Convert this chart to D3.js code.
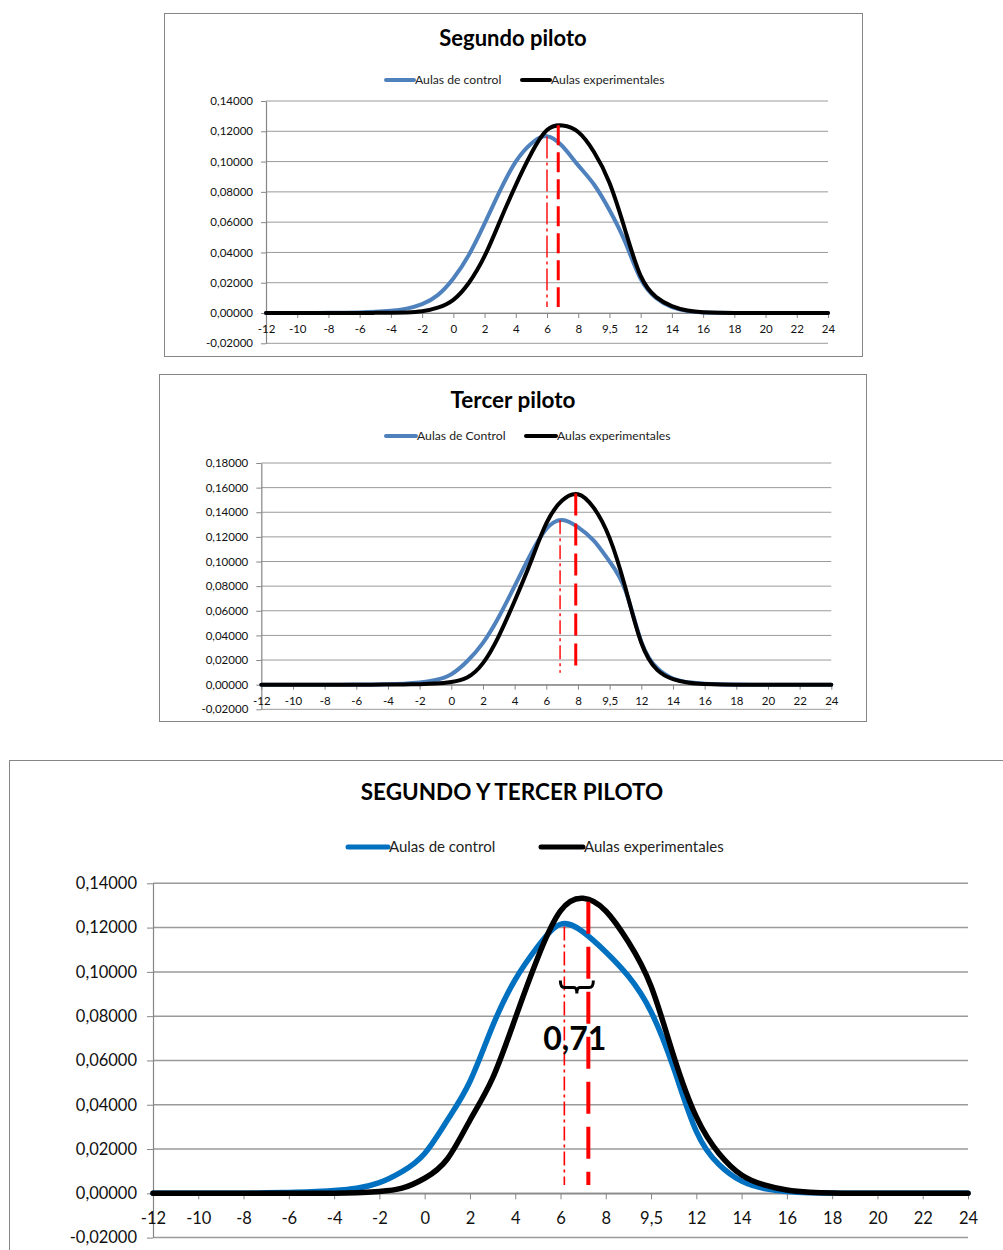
<!DOCTYPE html>
<html>
<head>
<meta charset="utf-8">
<script src="https://cdn.jsdelivr.net/npm/d3@7"></script>
<style>
  body { margin: 0; background: #fff; }
  svg { display: block; }
  text { font-family: Lato, "Open Sans", "Liberation Sans", sans-serif; }
</style>
</head>
<body>
<svg id="chart" width="1003" height="1250"></svg>
<script>
// Score positions on the horizontal axis (one density value per score)
const scores = [-12,-11,-10,-9,-8,-7,-6,-5,-4,-3,-2,-1,0,1,2,3,4,5,6,7,8,9,10,11,12,13,14,15,16,17,18,19,20,21,22,23,24];

// Category ticks and their printed labels
const tickValues = [-12,-10,-8,-6,-4,-2,0,2,4,6,8,10,12,14,16,18,20,22,24];
const tickLabels = ["-12","-10","-8","-6","-4","-2","0","2","4","6","8","9,5","12","14","16","18","20","22","24"];

// Second pilot: density of marks
const segundoControl = [0,0,0,0,0.0001,0.0002,0.0004,0.0008,0.0015,0.0029,0.0058,0.0118,0.0228,0.0385,0.059,0.081,0.100,0.112,0.1168,0.110,0.0975,0.085,0.068,0.047,0.0225,0.0098,0.0038,0.0013,0.0004,0.0001,0,0,0,0,0,0,0];
const segundoExperimental = [0,0,0,0,0,0,0,0.0001,0.0002,0.0004,0.0011,0.0035,0.0087,0.020,0.0375,0.061,0.0845,0.1055,0.1208,0.1238,0.1195,0.1065,0.086,0.055,0.0245,0.0105,0.0045,0.0016,0.0005,0.0001,0,0,0,0,0,0,0];

// Third pilot
const terceroControl = [0,0,0,0,0,0,0.0001,0.0002,0.0004,0.0008,0.0017,0.0038,0.0085,0.019,0.034,0.055,0.080,0.1055,0.1265,0.1338,0.128,0.117,0.100,0.0765,0.035,0.0135,0.005,0.002,0.0008,0.0003,0.0001,0,0,0,0,0,0];
const terceroExperimental = [0,0,0,0,0,0,0,0,0.0001,0.0002,0.0004,0.0009,0.0022,0.0058,0.0175,0.0395,0.068,0.099,0.131,0.1495,0.1546,0.1435,0.119,0.0785,0.034,0.012,0.0045,0.0015,0.0005,0.0001,0,0,0,0,0,0,0];

// Second and third pilots together
const conjuntoControl = [0,0,0,0,0,0.0002,0.0004,0.0007,0.0013,0.0023,0.0048,0.0098,0.018,0.033,0.0505,0.0755,0.0965,0.1115,0.1215,0.118,0.109,0.098,0.082,0.0565,0.028,0.013,0.0055,0.0022,0.0008,0.0003,0.0001,0,0,0,0,0,0];
const conjuntoExperimental = [0,0,0,0,0,0,0,0,0,0.0002,0.0008,0.0023,0.0068,0.0155,0.033,0.052,0.079,0.1065,0.1275,0.1332,0.1275,0.1135,0.0935,0.062,0.0345,0.018,0.0083,0.0038,0.0015,0.0005,0.0001,0,0,0,0,0,0];

// Mean markers: [control, experimental] position, top value, bottom value
const segundoMeans = [6.0, 6.72];
const segundoMeanTops = [0.1165, 0.1240];
const terceroMeans = [6.87, 7.86];
const terceroMeanTops = [0.1335, 0.1552];
const conjuntoMeans = [6.17, 7.23];
const conjuntoMeanTops = [0.1205, 0.1317];
const meanBottoms = [0.004, 0.0097, 0.0037];

// Titles, legend entries and the annotated gap
const titles = ["Segundo piloto", "Tercer piloto", "SEGUNDO Y TERCER PILOTO"];
const legendSegundo = ["Aulas de control", "Aulas experimentales"];
const legendTercero = ["Aulas de Control", "Aulas experimentales"];
const legendConjunto = ["Aulas de control", "Aulas experimentales"];
const gapLabel = "0,71";

const esLocale = d3.formatLocale({ decimal: ",", thousands: ".", grouping: [3], currency: ["", "€"], minus: "-" });
const fmtY = esLocale.format(".5f");

const svg = d3.select("#chart");

const panels = [
  {
    frame: { x: 164, y: 13, w: 698, h: 343 },
    plot: { left: 266, right: 828, top: 101, bottom: 343.3 },
    yMax: 0.14, title: titles[0], titleX: 513, titleY: 46, titleSize: 22,
    legendY: 80, legendFont: 12.2, legendSwatches: [[386, 414], [522, 550]], legendText: legendSegundo, swatchW: 4,
    tickFont: 11.5, yPad: 8, xPad: 7, tickSize: 5, gridW: 1,
    lineW: 4, blue: "#4f81bd",
    control: segundoControl, experimental: segundoExperimental,
    means: segundoMeans, meanTops: segundoMeanTops, meanBottom: meanBottoms[0],
    thinW: 1.4, thickW: 3, thinDash: "22,4,3,4", thickDash: "20,7"
  },
  {
    frame: { x: 159, y: 374, w: 707, h: 347 },
    plot: { left: 261.3, right: 831.3, top: 463, bottom: 709.3 },
    yMax: 0.18, title: titles[1], titleX: 513, titleY: 408, titleSize: 22.5,
    legendY: 436, legendFont: 12.2, legendSwatches: [[386, 416], [526, 556]], legendText: legendTercero, swatchW: 4,
    tickFont: 11.5, yPad: 8, xPad: 7, tickSize: 5, gridW: 1,
    lineW: 4, blue: "#4f81bd",
    control: terceroControl, experimental: terceroExperimental,
    means: terceroMeans, meanTops: terceroMeanTops, meanBottom: meanBottoms[1],
    thinW: 1.4, thickW: 3, thinDash: "14,4,3,4", thickDash: "22,8"
  },
  {
    frame: { x: 9, y: 760, w: 1010, h: 520 },
    plot: { left: 153, right: 968, top: 883.3, bottom: 1237.6 },
    yMax: 0.14, title: titles[2], titleX: 512, titleY: 800, titleSize: 22.5,
    legendY: 847, legendFont: 15, legendSwatches: [[348, 388], [541, 583]], legendText: legendConjunto, swatchW: 5,
    tickFont: 16.5, yPad: 10, xPad: 13, tickSize: 6, gridW: 1.5,
    lineW: 5.5, blue: "#0070c0",
    control: conjuntoControl, experimental: conjuntoExperimental,
    means: conjuntoMeans, meanTops: conjuntoMeanTops, meanBottom: meanBottoms[2],
    thinW: 1.6, thickW: 4, thinDash: "14,4,3,4", thickDash: "32,13",
    gap: true
  }
];

panels.forEach(drawPanel);

function drawPanel(p) {
  const g = svg.append("g");

  // chart frame
  g.append("rect")
    .attr("x", p.frame.x + 0.5).attr("y", p.frame.y + 0.5)
    .attr("width", p.frame.w).attr("height", p.frame.h)
    .attr("fill", "#fff").attr("stroke", "#868686").attr("stroke-width", 1);

  const x = d3.scaleLinear().domain([-12, 24]).range([p.plot.left, p.plot.right]);
  const y = d3.scaleLinear().domain([-0.02, p.yMax]).range([p.plot.bottom, p.plot.top]);
  const yTicks = d3.range(-0.02, p.yMax + 0.0001, 0.02);

  // horizontal gridlines
  g.append("g").selectAll("line").data(yTicks).join("line")
    .attr("x1", p.plot.left).attr("x2", p.plot.right)
    .attr("y1", d => y(d)).attr("y2", d => y(d))
    .attr("stroke", "#9a9a9a").attr("stroke-width", p.gridW);

  // vertical axis
  const yAxis = g.append("g")
    .attr("transform", `translate(${p.plot.left},0)`)
    .call(d3.axisLeft(y).tickValues(yTicks).tickFormat(fmtY)
      .tickSize(p.tickSize).tickSizeOuter(0).tickPadding(p.yPad));
  yAxis.select(".domain").attr("stroke", "#868686").attr("stroke-width", 1.2);
  yAxis.selectAll(".tick line").attr("stroke", "#868686");
  yAxis.selectAll("text").attr("font-size", p.tickFont).attr("fill", "#111")
    .attr("font-family", "Lato, sans-serif");

  // category axis at zero
  const xAxis = g.append("g")
    .attr("transform", `translate(0,${y(0)})`)
    .call(d3.axisBottom(x).tickValues(tickValues)
      .tickFormat((d, i) => tickLabels[i])
      .tickSize(p.tickSize).tickSizeOuter(0).tickPadding(p.xPad));
  xAxis.select(".domain").attr("stroke", "#868686").attr("stroke-width", 1.2);
  xAxis.selectAll(".tick line").attr("stroke", "#868686");
  xAxis.selectAll("text").attr("font-size", p.tickFont).attr("fill", "#111")
    .attr("font-family", "Lato, sans-serif");

  // density curves (smooth spline through the values)
  const line = d3.line()
    .x((d, i) => x(scores[i]))
    .y(d => y(d))
    .curve(d3.curveNatural);

  g.append("path").datum(p.control)
    .attr("d", line).attr("fill", "none")
    .attr("stroke", p.blue).attr("stroke-width", p.lineW)
    .attr("stroke-linejoin", "round").attr("stroke-linecap", "round");
  g.append("path").datum(p.experimental)
    .attr("d", line).attr("fill", "none")
    .attr("stroke", "#000").attr("stroke-width", p.lineW)
    .attr("stroke-linejoin", "round").attr("stroke-linecap", "round");

  // mean markers
  const meanStyle = [
    { w: p.thinW, dash: p.thinDash },
    { w: p.thickW, dash: p.thickDash }
  ];
  g.append("g").selectAll("line").data(p.means).join("line")
    .attr("x1", d => x(d)).attr("x2", d => x(d))
    .attr("y1", (d, i) => y(p.meanTops[i])).attr("y2", y(p.meanBottom))
    .attr("stroke", "#ff0000")
    .attr("stroke-width", (d, i) => meanStyle[i].w)
    .attr("stroke-dasharray", (d, i) => meanStyle[i].dash);

  // title
  g.append("text")
    .attr("x", p.titleX).attr("y", p.titleY)
    .attr("text-anchor", "middle")
    .attr("font-size", p.titleSize).attr("font-weight", 700).attr("fill", "#000")
    .text(p.title);

  // legend
  const colors = [p.blue, "#000"];
  p.legendSwatches.forEach((s, i) => {
    g.append("line")
      .attr("x1", s[0]).attr("x2", s[1])
      .attr("y1", p.legendY).attr("y2", p.legendY)
      .attr("stroke", colors[i]).attr("stroke-width", p.swatchW)
      .attr("stroke-linecap", "round");
    g.append("text")
      .attr("x", s[1] + 1).attr("y", p.legendY)
      .attr("dy", "0.35em")
      .attr("font-size", p.legendFont).attr("fill", "#222")
      .text(p.legendText[i]);
  });

  // brace and label for the gap between means
  if (p.gap) {
    const xa = x(p.means[0]) - 4, xb = x(p.means[1]) + 5;
    const xm = (xa + xb) / 2;
    const yb = y(0.093), yTop = yb - 7, yNub = yb + 6;
    const brace = d3.path();
    brace.moveTo(xa, yTop);
    brace.quadraticCurveTo(xa, yb, xa + 4, yb);
    brace.lineTo(xm - 3, yb);
    brace.quadraticCurveTo(xm, yb, xm, yNub);
    brace.quadraticCurveTo(xm, yb, xm + 3, yb);
    brace.lineTo(xb - 4, yb);
    brace.quadraticCurveTo(xb, yb, xb, yTop);
    g.append("path").attr("d", brace.toString())
      .attr("fill", "none").attr("stroke", "#000").attr("stroke-width", 3);

    g.append("text")
      .attr("x", xm - 2).attr("y", y(0.0645))
      .attr("text-anchor", "middle")
      .attr("font-size", 32).attr("font-weight", 700).attr("fill", "#000")
      .text(gapLabel);
  }
}
</script>
</body>
</html>
